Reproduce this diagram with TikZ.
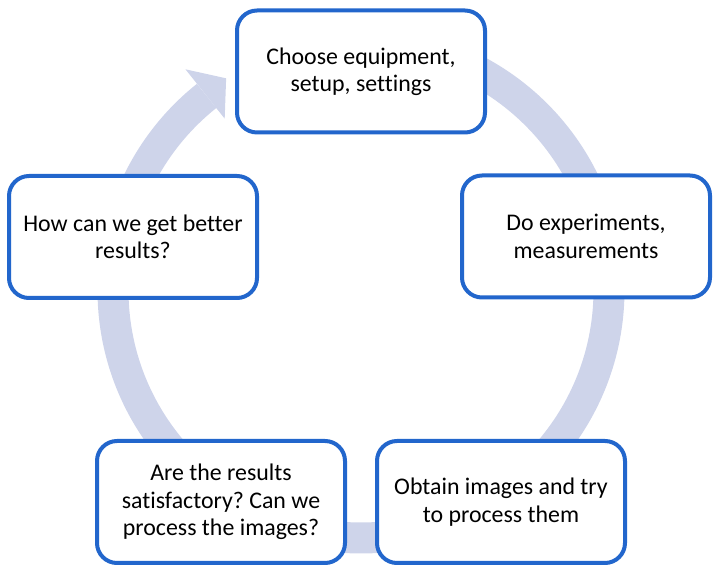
\documentclass[tikz,border=0pt]{standalone}
\usepackage{fontspec}
\setmainfont{Carlito}[Ligatures=NoCommon]
\frenchspacing
\usepackage{tikz}
\usetikzlibrary{positioning}
\definecolor{ringblue}{RGB}{206,212,234}
\definecolor{boxblue}{RGB}{34,102,204}

\begin{document}
\begin{tikzpicture}[x=0.75pt,y=0.75pt,
  stage/.style={draw=boxblue,line width=3pt,rounded corners=15pt,fill=white,minimum width=186pt,minimum height=91.5pt,align=center,font=\fontsize{17.9}{20.5}\selectfont},
  ring/.style={draw=ringblue,line width=23.25pt}]
\useasboundingbox (0,0) rectangle (715,567);
\coordinate (c) at (361,277);
% cycle ring with its arrow head
\draw[ring] ([shift={(90:248)}]c) arc[start angle=90,end angle=-231.5,radius=248];
\fill[ringblue] ([shift={(128.5:219)}]c) -- ([shift={(122.5:251)}]c) -- ([shift={(128.5:282)}]c) -- cycle;
% the five steps
\node[stage] (equip) at (361,495.5) {Choose equipment,\\setup, settings};
\node[stage] (exper) at (586,330.5) {Do experiments,\\measurements};
\node[stage] (images) at (501,65) {Obtain images and try\\to process them};
\node[stage] (check) at (221,65) {Are the results\\satisfactory? Can we\\process the images?};
\node[stage] (better) at (133,330) {How can we get better\\results?};
\end{tikzpicture}
\end{document}
